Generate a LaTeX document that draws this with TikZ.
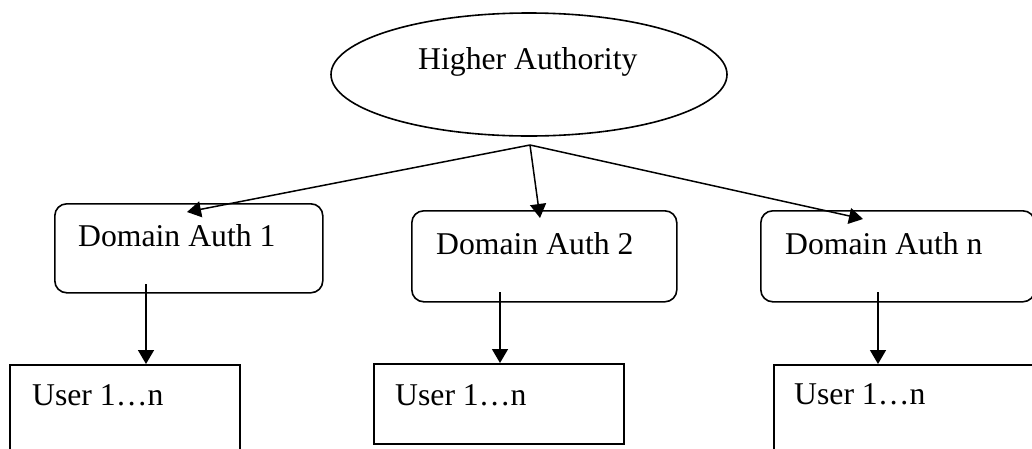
\documentclass[tikz,border=0pt]{standalone}
\usepackage{fontspec}
\setmainfont{Liberation Serif}
\usetikzlibrary{shapes.geometric,arrows.meta}
\begin{document}
\begin{tikzpicture}[x=1pt,y=-1pt,
  shp/.style={draw=black,line width=1.6pt,inner sep=0pt,anchor=north west},
  rbox/.style={shp,rounded corners=12pt},
  sbox/.style={shp},
  lbl/.style={anchor=base west,inner sep=0pt,font=\fontsize{31.7}{38}\selectfont},
  arr/.style={line width=1.5pt,-{Triangle[length=14pt,width=16pt]}}]
\useasboundingbox (0,0) rectangle (1032,448);
\clip (0,0) rectangle (1032,448);
% top authority
\node[draw=black,ellipse,line width=1.6pt,minimum width=396pt,minimum height=123pt,inner sep=0pt] (ha) at (529,74.5) {};
\node[lbl] (hat) at (418,69) {Higher Authority};
% domain authorities
\node[rbox,minimum width=268pt,minimum height=89pt] (d1) at (54,203) {};
\node[rbox,minimum width=265pt,minimum height=91pt] (d2) at (411,210) {};
\node[rbox,minimum width=274pt,minimum height=91pt] (dn) at (760,210) {};
\node[lbl] (d1t) at (78,246) {Domain Auth 1};
\node[lbl] (d2t) at (436,254) {Domain Auth 2};
\node[lbl] (dnt) at (785,254) {Domain Auth n};
% users
\node[sbox,minimum width=230pt,minimum height=110pt] (u1) at (9,364) {};
\node[sbox,minimum width=250pt,minimum height=80pt] (u2) at (373,363) {};
\node[sbox,minimum width=280pt,minimum height=110pt] (un) at (773,364) {};
\node[lbl] (u1t) at (32,405) {User 1…n};
\node[lbl] (u2t) at (395,405) {User 1…n};
\node[lbl] (unt) at (794,404) {User 1…n};
% connector end points
\coordinate (apex) at (530,145);
\coordinate (e1) at (187,212);
\coordinate (e2) at (540,218);
\coordinate (en) at (863,219);
\coordinate (s1) at (146,284);
\coordinate (s2) at (500,292);
\coordinate (sn) at (878,292);
\coordinate (f1) at (146,364);
\coordinate (f2) at (500,363);
\coordinate (fn) at (878,364);
\draw[arr] (apex) -- (e1);
\draw[arr] (apex) -- (e2);
\draw[arr] (apex) -- (en);
\draw[arr] (s1) -- (f1);
\draw[arr] (s2) -- (f2);
\draw[arr] (sn) -- (fn);
\end{tikzpicture}
\end{document}
